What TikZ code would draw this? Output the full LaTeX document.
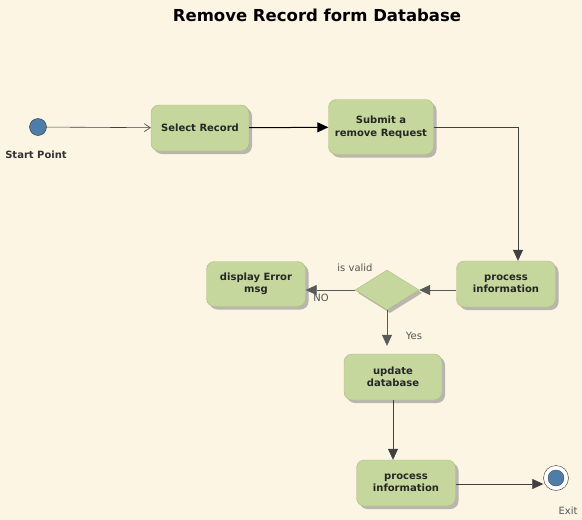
\documentclass[tikz,border=0pt]{standalone}
\usepackage{fontspec}
\setmainfont{DejaVu Sans}
\usetikzlibrary{arrows.meta,shapes.geometric,shadows}
\definecolor{bg}{HTML}{FDF5E4}
\definecolor{boxfill}{HTML}{C6D79D}
\definecolor{boxline}{HTML}{A9BC7E}
\definecolor{dotblue}{HTML}{4F7DAA}
\definecolor{labgray}{HTML}{555555}
\tikzset{
  act/.style={draw=boxline, fill=boxfill, rounded corners=8pt, align=center,
    font=\fontsize{10}{12.5}\selectfont\bfseries, text=black!85,
    drop shadow={shadow xshift=3pt, shadow yshift=-3pt, fill=black!45, opacity=0.6},
    inner sep=0pt},
  dec/.style={diamond, draw=boxline, fill=boxfill, minimum width=64pt, minimum height=40pt,
    inner sep=0pt, aspect=1.6,
    drop shadow={shadow xshift=3pt, shadow yshift=-3pt, fill=black!45, opacity=0.6}},
  lab/.style={font=\fontsize{10}{12}\selectfont, text=labgray},
  filled/.style={-{Triangle[length=11pt,width=10pt]}},
  flow/.style={draw=black!75, line width=0.7pt},
}
\begin{document}
\begin{tikzpicture}[x=1pt,y=-1pt]
\fill[bg] (0,0) rectangle (582,520);
\useasboundingbox (0,0) rectangle (582,520);

\node[font=\fontsize{16.5}{20}\selectfont\bfseries] (title) at (317,15) {Remove Record form Database};

\node[circle, draw=black!80, fill=dotblue, minimum size=17pt, inner sep=0pt] (start) at (38,127) {};
\node[font=\fontsize{10}{12}\selectfont\bfseries, text=black!80] (startlab) at (36,155) {Start Point};

\node[act, minimum width=98pt, minimum height=46pt] (sel) at (200,128) {Select Record};
\node[act, minimum width=105pt, minimum height=55pt] (sub) at (381,127) {Submit a\\remove Request};
\node[act, minimum width=99pt, minimum height=46pt] (proc1) at (506,284) {process\\information};
\node[dec] (dia) at (387,290) {};
\node[act, minimum width=99pt, minimum height=45pt] (err) at (256,284) {display Error\\msg};
\node[act, minimum width=98pt, minimum height=46pt] (upd) at (393,377) {update\\database};
\node[act, minimum width=99pt, minimum height=46pt] (proc2) at (406,483) {process\\information};

\node[circle, draw=black!80, fill=white, minimum size=25pt, inner sep=0pt] (exit) at (556,478) {};
\node[circle, draw=black!70, fill=dotblue, minimum size=16pt, inner sep=0pt] at (exit) {};
\node[lab] (exitlab) at (568,511) {Exit};

\draw[flow, -{Straight Barb[length=6pt,width=8pt]}, line width=0.6pt] (start) -- (sel);
\draw[flow, filled, draw=black, line width=1pt] (sel) -- (sub);
\draw[flow, filled] (sub.east) -| ([xshift=12pt]proc1.north);
\draw[flow, filled, draw=black!65] (proc1.west |- dia) -- (dia.east);
\draw[flow, filled, draw=black!65] (dia.west) -- (err.east |- dia);
\draw[flow, filled, draw=black!65, shorten >=8pt] (dia.south) -- (dia.south |- upd.north);
\draw[flow, filled] (upd.south) -- (upd.south |- proc2.north);
\draw[flow, filled] (proc2.east |- 0,484) -- (exit.west |- 0,484);

\node[lab] (isvalid) at (355,268) {is valid};
\node[lab] (no) at (321,298) {NO};
\node[lab] (yes) at (414,336) {Yes};
\end{tikzpicture}
\end{document}
